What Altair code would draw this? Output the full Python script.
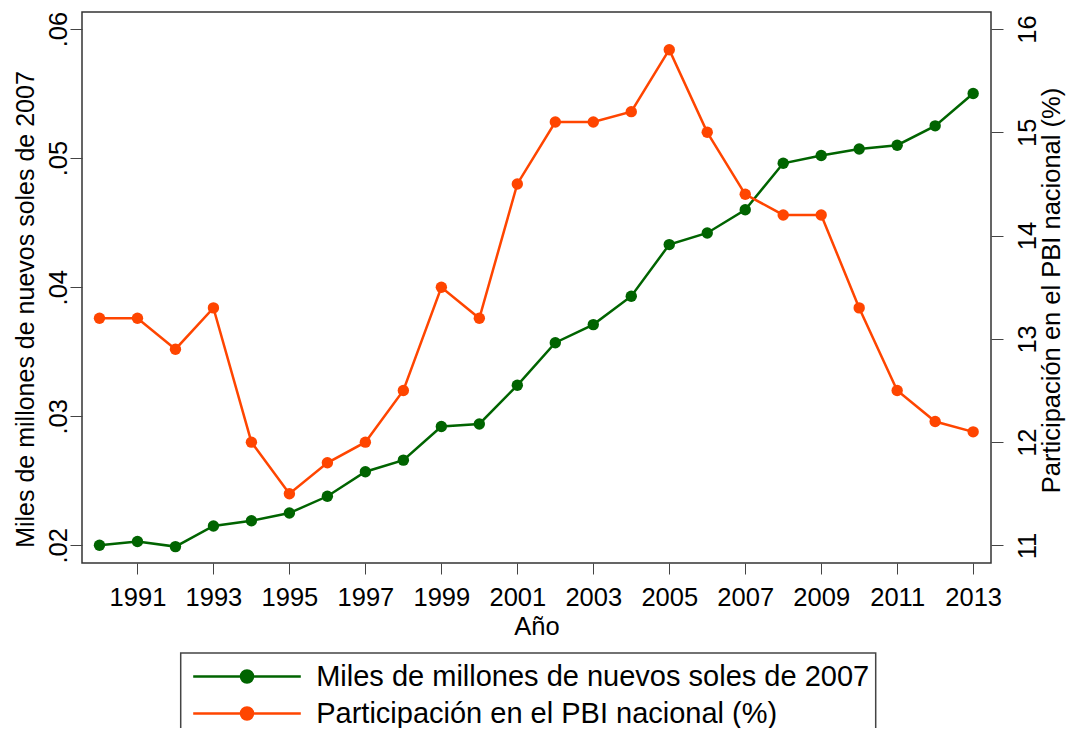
import altair as alt
import pandas as pd

years = list(range(1990, 2014))
miles = [0.0200, 0.0203, 0.0199, 0.0215, 0.0219, 0.0225, 0.0238, 0.0257, 0.0266, 0.0292,
         0.0294, 0.0324, 0.0357, 0.0371, 0.0393, 0.0433, 0.0442, 0.0460, 0.0496, 0.0502,
         0.0507, 0.0510, 0.0525, 0.0550]
part = [13.2, 13.2, 12.9, 13.3, 12.0, 11.5, 11.8, 12.0, 12.5, 13.5,
        13.2, 14.5, 15.1, 15.1, 15.2, 15.8, 15.0, 14.4, 14.2, 14.2,
        13.3, 12.5, 12.2, 12.1]
x_ticks = list(range(1991, 2014, 2))
left_ticks = [0.02, 0.03, 0.04, 0.05, 0.06]
right_ticks = [11, 12, 13, 14, 15, 16]
lab1 = "Miles de millones de nuevos soles de 2007"
lab2 = "Participación en el PBI nacional (%)"
series = [lab1, lab2]
colors = ["#006400", "#FF4500"]

df1 = pd.DataFrame({"year": years, "value": miles, "serie": lab1})
df2 = pd.DataFrame({"year": years, "value": part, "serie": lab2})

FONT = "Liberation Sans"

X = alt.X("year:Q", title="Año",
          scale=alt.Scale(domain=[1989.54, 2013.47], nice=False, zero=False),
          axis=alt.Axis(values=x_ticks, format="d", grid=False, domain=False,
                        tickSize=11, tickColor="#444", labelPadding=11,
                        labelFontSize=25.5, labelFont=FONT, labelColor="black",
                        titleFontSize=25.5, titleFont=FONT, titleFontWeight="normal",
                        titleColor="black", titleBaseline="alphabetic", titleY=71))

legend_path = ("M-0.6875,0H6.0375M2.3,0A0.375,0.375 0 1,0 3.05,0"
               "A0.375,0.375 0 1,0 2.3,0Z")

COLOR = alt.Color("serie:N",
                  scale=alt.Scale(domain=series, range=colors),
                  legend=alt.Legend(title=None, orient="none", legendX=98.7, legendY=641,
                                    direction="vertical", symbolType=legend_path,
                                    symbolSize=1024, symbolStrokeWidth=2.5,
                                    symbolOpacity=1,
                                    labelFontSize=29, labelFont=FONT, labelColor="black",
                                    labelOffset=94.5, labelLimit=0, padding=6,
                                    rowPadding=4, strokeColor="#444"))

Y1 = alt.Y("value:Q", title=lab1,
           scale=alt.Scale(domain=[0.01863, 0.06132], nice=False, zero=False),
           axis=alt.Axis(values=left_ticks, orient="left", grid=False, domain=False,
                         labelExpr="replace(format(datum.value, '.2f'), '0.', '.')",
                         tickSize=12, tickColor="#444", labelPadding=4,
                         labelAngle=270, labelAlign="center", labelBaseline="alphabetic",
                         labelFontSize=25.5, labelFont=FONT, labelColor="black",
                         titleAngle=270, titleFontSize=25, titleFont=FONT,
                         titleFontWeight="normal", titleColor="black",
                         titleAlign="center", titleBaseline="alphabetic",
                         titleX=-49, titleY=297))

Y2 = alt.Y("value:Q", title=lab2,
           scale=alt.Scale(domain=[10.83, 16.165], nice=False, zero=False),
           axis=alt.Axis(values=right_ticks, orient="right", grid=False, domain=False,
                         format="d", tickSize=12, tickColor="#444", labelPadding=12,
                         labelAngle=270, labelAlign="center", labelBaseline="top",
                         labelFontSize=25.5, labelFont=FONT, labelColor="black",
                         titleAngle=270, titleFontSize=25.5, titleFont=FONT,
                         titleFontWeight="normal", titleColor="black",
                         titleAlign="center", titleBaseline="alphabetic",
                         titleX=68, titleY=278))

g_line = alt.Chart(df1).mark_line(strokeWidth=2.5).encode(x=X, y=Y1, color=COLOR)
g_pts = alt.Chart(df1).mark_point(filled=True, size=130, opacity=1).encode(x=X, y=Y1, color=COLOR)
o_line = alt.Chart(df2).mark_line(strokeWidth=2.5).encode(x=X, y=Y2, color=COLOR)
o_pts = alt.Chart(df2).mark_point(filled=True, size=130, opacity=1).encode(x=X, y=Y2, color=COLOR)

chart = alt.layer(
    alt.layer(g_line, g_pts),
    alt.layer(o_line, o_pts),
).resolve_scale(y="independent").properties(
    width=909, height=551,
    autosize=alt.AutoSizeParams(type="none"),
    padding={"left": 74, "top": 4, "right": 77, "bottom": 165},
    background="white",
).configure_view(stroke="#333", strokeWidth=1.5).configure_legend(strokeWidth=1.5)

chart.save("out.html", embed_options={"renderer": "svg", "actions": False})
